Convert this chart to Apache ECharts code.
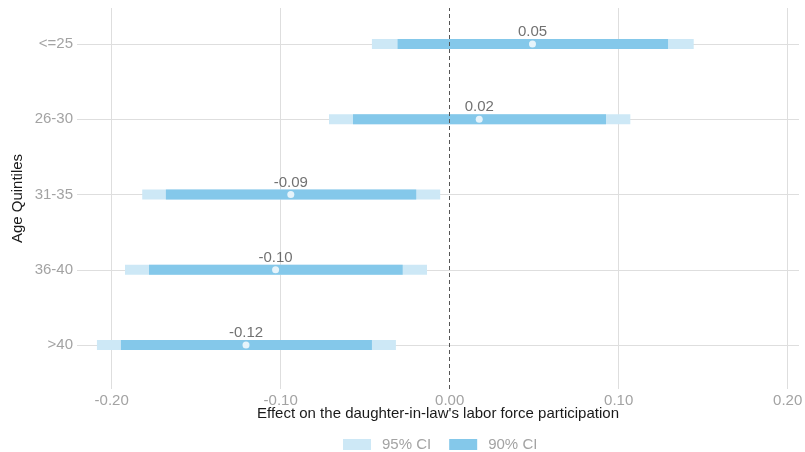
<!DOCTYPE html>
<html>
<head>
<meta charset="utf-8">
<script src="https://cdn.jsdelivr.net/npm/echarts@6/dist/echarts.min.js"></script>
<style>
  html, body { margin: 0; padding: 0; background: #ffffff; }
  #chart { width: 805px; height: 452px; }
</style>
</head>
<body>
<div id="chart"></div>
<script>
// Age groups, top to bottom
const categories = ['<=25', '26-30', '31-35', '36-40', '>40'];
// Point estimates
const estimate = [0.049, 0.0175, -0.094, -0.103, -0.1205];
// 95% confidence interval bounds
const lo95 = [-0.046, -0.0714, -0.1819, -0.1921, -0.2087];
const hi95 = [0.1444, 0.1069, -0.0056, -0.0134, -0.0318];
// 90% confidence interval bounds
const lo90 = [-0.0308, -0.0572, -0.1679, -0.1779, -0.1945];
const hi90 = [0.1292, 0.0925, -0.0198, -0.0278, -0.046];
// Vertical reference lines on the effect axis
const xTicks = [-0.2, -0.1, 0.1, 0.2];

const FONT = 'Liberation Sans, Arial, sans-serif';
const C95 = '#cde8f6';
const C90 = '#84c8ea';
const GRIDC = '#dedede';
const n = categories.length;
// category index i is drawn at y = n - 1 - i so the first group sits on top
const rowY = i => n - 1 - i;

function ciSeries(name, color, lo, hi) {
  return {
    name: name,
    type: 'custom',
    itemStyle: { color: color },
    z: 3,
    data: categories.map((c, i) => [lo[i], hi[i], rowY(i)]),
    renderItem: function (params, api) {
      const a = api.coord([api.value(0), api.value(2)]);
      const b = api.coord([api.value(1), api.value(2)]);
      const h = 10;
      return {
        type: 'rect',
        shape: { x: a[0], y: a[1] - h / 2, width: b[0] - a[0], height: h },
        style: { fill: color }
      };
    }
  };
}

const chart = echarts.init(document.getElementById('chart'), null, { renderer: 'canvas' });
chart.setOption({
  animation: false,
  backgroundColor: '#ffffff',
  textStyle: { fontFamily: FONT },
  grid: { left: 77, right: 6, top: 8, bottom: 63, outerBoundsMode: 'none', containLabel: false },
  legend: {
    data: ['95% CI', '90% CI'],
    left: 338,
    top: 432,
    icon: 'rect',
    itemWidth: 28,
    itemHeight: 11,
    itemGap: 18,
    textStyle: { color: '#a3a3a3', fontSize: 15, fontFamily: FONT, padding: [0, 0, 0, 6] }
  },
  xAxis: {
    type: 'value',
    min: -0.2205,
    max: 0.2067,
    splitLine: { show: false },
    axisLine: { show: false },
    axisTick: { show: false },
    axisLabel: {
      color: '#a3a3a3',
      fontSize: 15,
      fontFamily: FONT,
      margin: 4,
      formatter: function (v) {
        const k = Math.round(v * 10);
        return Math.abs(v * 10 - k) < 1e-6 ? (k / 10).toFixed(2) : '';
      }
    },
    name: "Effect on the daughter-in-law's labor force participation",
    nameLocation: 'middle',
    nameGap: 17,
    nameMoveOverlap: false,
    nameTextStyle: { color: '#1a1a1a', fontSize: 15, fontFamily: FONT }
  },
  yAxis: {
    type: 'value',
    min: -0.585,
    max: 4.48,
    splitLine: { show: false },
    axisLine: { show: false },
    axisTick: { show: false },
    axisLabel: {
      color: '#a3a3a3',
      fontSize: 15,
      fontFamily: FONT,
      margin: 4,
      formatter: function (v) {
        const k = Math.round(v);
        if (Math.abs(v - k) > 1e-6 || k < 0 || k > n - 1) return '';
        return categories[n - 1 - k];
      }
    },
    name: 'Age Quintiles',
    nameLocation: 'middle',
    nameGap: 52,
    nameMoveOverlap: false,
    nameRotate: 90,
    nameTextStyle: { color: '#1a1a1a', fontSize: 15, fontFamily: FONT }
  },
  series: [
    {
      // background rules: one per age group and one per effect tick
      type: 'custom',
      silent: true,
      z: 1,
      data: [],
      renderItem: function () { return null; },
      markLine: {
        silent: true,
        z: 1,
        symbol: 'none',
        label: { show: false },
        lineStyle: { color: GRIDC, type: 'solid', width: 1 },
        data: categories.map((c, i) => ({ yAxis: rowY(i) }))
          .concat(xTicks.map(t => ({ xAxis: t })))
      }
    },
    ciSeries('95% CI', C95, lo95, hi95),
    ciSeries('90% CI', C90, lo90, hi90),
    {
      type: 'scatter',
      z: 5,
      symbol: 'circle',
      symbolSize: 7,
      itemStyle: { color: '#ffffff' },
      data: estimate.map((v, i) => [v, rowY(i)]),
      label: {
        show: true,
        position: 'top',
        distance: 1,
        color: '#4d4d4d',
        fontSize: 15,
        fontFamily: FONT,
        formatter: p => p.value[0].toFixed(2)
      },
      markLine: {
        silent: true,
        z: 4,
        symbol: 'none',
        label: { show: false },
        lineStyle: { color: '#555555', type: [4, 3], width: 1 },
        data: [{ xAxis: 0 }]
      }
    }
  ]
});
</script>
</body>
</html>
